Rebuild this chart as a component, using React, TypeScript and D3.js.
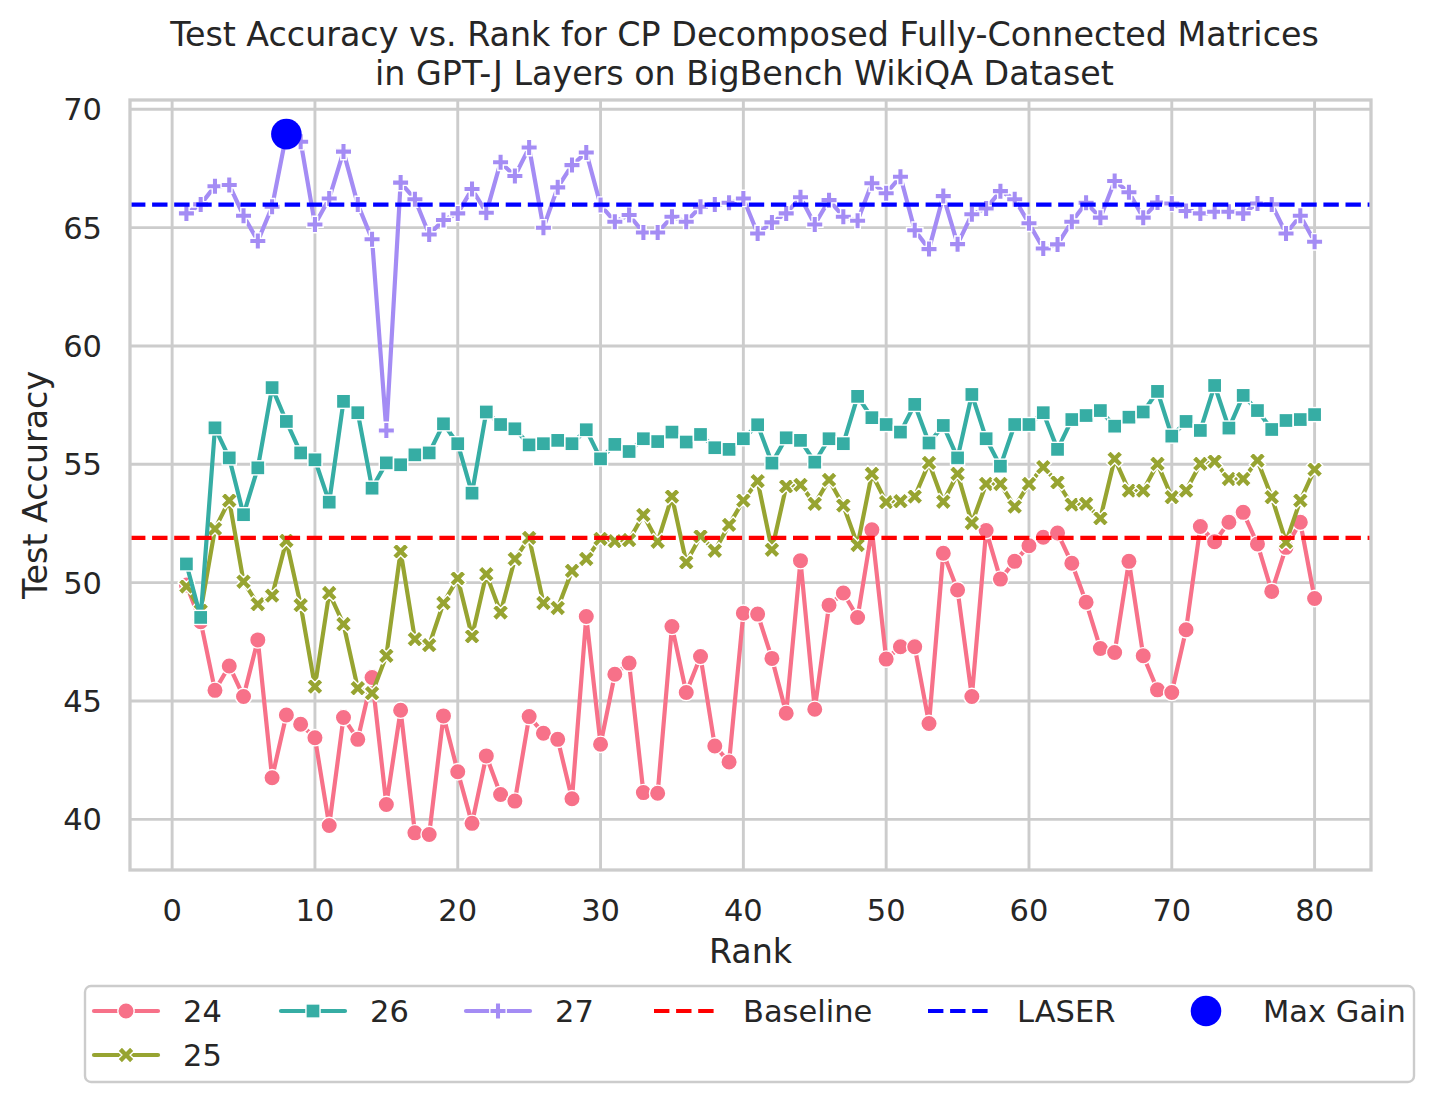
import React from 'react';
import * as d3 from 'd3';

// ranks on the x axis
const ranks = d3.range(1, 81);

// test accuracy per GPT-J layer
const layer24 = [
  49.9, 48.35, 45.45, 46.48, 45.19, 47.58, 41.76, 44.41, 44.02, 43.45,
  39.74, 44.3, 43.38, 45.99, 40.63, 44.61, 39.43, 39.36, 44.37, 42.01,
  39.83, 42.68, 41.05, 40.77, 44.34, 43.64, 43.38, 40.87, 48.57, 43.17,
  46.13, 46.6, 41.13, 41.1, 48.15, 45.36, 46.88, 43.1, 42.42, 48.71,
  48.67, 46.8, 44.48, 50.93, 44.65, 49.05, 49.56, 48.53, 52.23, 46.77,
  47.29, 47.29, 44.05, 51.24, 49.69, 45.19, 52.2, 50.15, 50.9, 51.56,
  51.92, 52.1, 50.82, 49.17, 47.22, 47.05, 50.9, 46.91, 45.47, 45.36,
  48.01, 52.37, 51.73, 52.55, 52.97, 51.63, 49.63, 51.49, 52.55, 49.33
];
const layer25 = [
  49.84, 48.81, 52.27, 53.47, 50.04, 49.09, 49.45, 51.77, 49.05, 45.61,
  49.56, 48.25, 45.54, 45.33, 46.91, 51.32, 47.61, 47.36, 49.14, 50.18,
  47.73, 50.36, 48.74, 51.0, 51.89, 49.14, 48.93, 50.5, 51.0, 51.85,
  51.75, 51.8, 52.86, 51.73, 53.64, 50.86, 51.96, 51.35, 52.44, 53.47,
  54.29, 51.39, 54.07, 54.13, 53.33, 54.34, 53.26, 51.59, 54.6, 53.4,
  53.44, 53.64, 55.06, 53.42, 54.6, 52.52, 54.17, 54.17, 53.21, 54.17,
  54.88, 54.24, 53.3, 53.33, 52.72, 55.23, 53.89, 53.89, 55.02, 53.61,
  53.89, 55.02, 55.12, 54.38, 54.38, 55.16, 53.61, 51.71, 53.47, 54.78
];
const layer26 = [
  50.79, 48.53, 56.54, 55.27, 52.87, 54.85, 58.24, 56.81, 55.48, 55.19,
  53.4, 57.66, 57.18, 53.99, 55.06, 54.98, 55.4, 55.48, 56.71, 55.87,
  53.78, 57.21, 56.68, 56.5, 55.82, 55.87, 56.01, 55.87, 56.46, 55.23,
  55.84, 55.54, 56.08, 55.96, 56.36, 55.94, 56.26, 55.7, 55.63, 56.08,
  56.67, 55.05, 56.12, 56.01, 55.09, 56.08, 55.87, 57.87, 56.97, 56.68,
  56.36, 57.53, 55.9, 56.64, 55.27, 57.95, 56.08, 54.92, 56.68, 56.68,
  57.18, 55.63, 56.89, 57.06, 57.27, 56.61, 56.99, 57.21, 58.08, 56.19,
  56.81, 56.43, 58.33, 56.53, 57.91, 57.27, 56.47, 56.85, 56.89, 57.1
];
const layer27 = [
  65.6, 65.98, 66.75, 66.8, 65.5, 64.43, 65.88, 68.95, 68.63, 65.13,
  66.23, 68.21, 65.98, 64.51, 56.43, 66.9, 66.2, 64.71, 65.32, 65.6,
  66.63, 65.63, 67.76, 67.18, 68.38, 64.99, 66.7, 67.64, 68.17, 65.95,
  65.25, 65.53, 64.79, 64.79, 65.46, 65.25, 65.88, 65.98, 66.05, 66.23,
  64.75, 65.22, 65.6, 66.28, 65.13, 66.16, 65.46, 65.29, 66.87, 66.45,
  67.15, 64.89, 64.09, 66.33, 64.3, 65.56, 65.81, 66.54, 66.2, 65.18,
  64.12, 64.29, 65.25, 66.05, 65.42, 66.97, 66.49, 65.42, 66.06, 66.02,
  65.7, 65.6, 65.67, 65.67, 65.6, 66.02, 65.98, 64.75, 65.5, 64.4
];

const seriesNames = ['24', '25', '26', '27'];
const seriesValues = [layer24, layer25, layer26, layer27];
const seriesColors = ['#f77189', '#97a431', '#36ada4', '#a48cf4'];
const seriesMarkers = ['o', 'X', 's', 'P'];

const baselineAcc = 51.89;
const laserAcc = 65.97;

const xTicks = [0, 10, 20, 30, 40, 50, 60, 70, 80];
const yTicks = [40, 45, 50, 55, 60, 65, 70];

const titleLines = [
  'Test Accuracy vs. Rank for CP Decomposed Fully-Connected Matrices',
  'in GPT-J Layers on BigBench WikiQA Dataset'
];

const W = 1435;
const H = 1103;
const plot = { left: 130, right: 1371, top: 100, bottom: 870 };
const FONT = 'DejaVu Sans, sans-serif';
const TEXT = '#262626';
const GRID = '#cccccc';
const MS = 16.4; // marker size
const MEW = 1.4; // white marker edge
const LW = 4.2;
const DASH = '15.4 6.7';

// filled marker outlines taken from matplotlib's 'X' and 'P'
const xVerts = [[-1, -2], [0, -1], [1, -2], [2, -1], [1, 0], [2, 1], [1, 2], [0, 1], [-1, 2], [-2, 1], [-1, 0], [-2, -1]];
const pVerts = [[-1, -3], [1, -3], [1, -1], [3, -1], [3, 1], [1, 1], [1, 3], [-1, 3], [-1, 1], [-3, 1], [-3, -1], [-1, -1]];

const polyPath = (verts: number[][], k: number) =>
  'M' + verts.map(v => `${v[0] * k},${v[1] * k}`).join('L') + 'Z';

const Marker = ({ kind, x, y, color }: { kind: string; x: number; y: number; color: string }) => {
  const common = { fill: color, stroke: 'white', strokeWidth: MEW };
  if (kind === 'o') return <circle cx={x} cy={y} r={MS / 2} {...common} />;
  if (kind === 's') {
    const s = MS * 0.86;
    return <rect x={x - s / 2} y={y - s / 2} width={s} height={s} {...common} />;
  }
  if (kind === 'X') return <path transform={`translate(${x},${y})`} d={polyPath(xVerts, MS / 4)} {...common} />;
  return <path transform={`translate(${x},${y})`} d={polyPath(pVerts, MS / 6)} {...common} />;
};

const App = () => {
  const x = d3.scaleLinear().domain([-2.95, 83.95]).range([plot.left, plot.right]);
  const y = d3.scaleLinear().domain([37.86, 70.39]).range([plot.bottom, plot.top]);

  const line = d3
    .line<number>()
    .x((_, i) => x(ranks[i]))
    .y(d => y(d));

  const maxVal = d3.max(layer27) as number;
  const maxRank = ranks[layer27.indexOf(maxVal)];

  const midX = (plot.left + plot.right) / 2;

  // legend columns, matplotlib ncol=6 fills column by column
  const legendCols = [
    { x: 94, items: [{ label: '24', i: 0 }, { label: '25', i: 1 }] },
    { x: 281, items: [{ label: '26', i: 2 }] },
    { x: 466, items: [{ label: '27', i: 3 }] },
    { x: 654, items: [{ label: 'Baseline', i: -1 }] },
    { x: 928, items: [{ label: 'LASER', i: -2 }] },
    { x: 1174, items: [{ label: 'Max Gain', i: -3 }] }
  ];
  const rowY = [1011, 1055];
  const handleLen = 64;

  return (
    <div style={{ position: 'absolute', left: 0, top: 0 }}>
      <svg width={W} height={H} style={{ display: 'block', background: 'white' }}>
        <rect x={0} y={0} width={W} height={H} fill="white" />

        {/* grid */}
        {xTicks.map(t => (
          <line key={'gx' + t} x1={x(t)} x2={x(t)} y1={plot.top} y2={plot.bottom} stroke={GRID} strokeWidth={2.9} />
        ))}
        {yTicks.map(t => (
          <line key={'gy' + t} x1={plot.left} x2={plot.right} y1={y(t)} y2={y(t)} stroke={GRID} strokeWidth={2.9} />
        ))}

        {/* series */}
        {seriesValues.map((vals, s) => (
          <g key={seriesNames[s]}>
            <path d={line(vals) || ''} fill="none" stroke={seriesColors[s]} strokeWidth={LW} strokeLinejoin="round" />
            {vals.map((v, i) => (
              <Marker key={i} kind={seriesMarkers[s]} x={x(ranks[i])} y={y(v)} color={seriesColors[s]} />
            ))}
          </g>
        ))}

        {/* reference lines */}
        <line x1={plot.left} x2={plot.right} y1={y(baselineAcc)} y2={y(baselineAcc)} stroke="red" strokeWidth={LW} strokeDasharray={DASH} />
        <line x1={plot.left} x2={plot.right} y1={y(laserAcc)} y2={y(laserAcc)} stroke="blue" strokeWidth={LW} strokeDasharray={DASH} />

        <circle cx={x(maxRank)} cy={y(maxVal)} r={15.3} fill="blue" />

        {/* frame */}
        <rect x={plot.left} y={plot.top} width={plot.right - plot.left} height={plot.bottom - plot.top} fill="none" stroke={GRID} strokeWidth={3.3} />

        {/* tick labels */}
        {xTicks.map(t => (
          <text key={'tx' + t} x={x(t)} y={921} textAnchor="middle" fontFamily={FONT} fontSize={30.5} fill={TEXT}>
            {t}
          </text>
        ))}
        {yTicks.map(t => (
          <text key={'ty' + t} x={102} y={y(t) + 11} textAnchor="end" fontFamily={FONT} fontSize={30.5} fill={TEXT}>
            {t}
          </text>
        ))}

        {/* axis labels */}
        <text x={midX} y={963} textAnchor="middle" fontFamily={FONT} fontSize={33.3} fill={TEXT}>
          Rank
        </text>
        <text transform={`translate(47,${(plot.top + plot.bottom) / 2}) rotate(-90)`} textAnchor="middle" fontFamily={FONT} fontSize={33.3} fill={TEXT}>
          Test Accuracy
        </text>

        {/* title */}
        {titleLines.map((t, i) => (
          <text key={t} x={midX - 6} y={46 + i * 39} textAnchor="middle" fontFamily={FONT} fontSize={33.3} fill={TEXT}>
            {t}
          </text>
        ))}

        {/* legend */}
        <rect x={85} y={986} width={1329} height={96} rx={6} fill="white" fillOpacity={0.8} stroke={GRID} strokeWidth={2.4} />
        {legendCols.map(col =>
          col.items.map((it, r) => {
            const cy = rowY[r];
            const mid = col.x + handleLen / 2;
            let handle;
            if (it.i >= 0) {
              handle = (
                <g>
                  <line x1={col.x} x2={col.x + handleLen} y1={cy} y2={cy} stroke={seriesColors[it.i]} strokeWidth={LW} strokeLinecap="round" />
                  <Marker kind={seriesMarkers[it.i]} x={mid} y={cy} color={seriesColors[it.i]} />
                </g>
              );
            } else if (it.i === -3) {
              handle = <circle cx={mid} cy={cy} r={15.3} fill="blue" />;
            } else {
              handle = (
                <line x1={col.x} x2={col.x + handleLen} y1={cy} y2={cy} stroke={it.i === -1 ? 'red' : 'blue'} strokeWidth={LW} strokeDasharray={DASH} />
              );
            }
            return (
              <g key={it.label}>
                {handle}
                <text x={col.x + 89} y={cy + 11} fontFamily={FONT} fontSize={30.5} fill={TEXT}>
                  {it.label}
                </text>
              </g>
            );
          })
        )}
      </svg>
    </div>
  );
};

export default App;
